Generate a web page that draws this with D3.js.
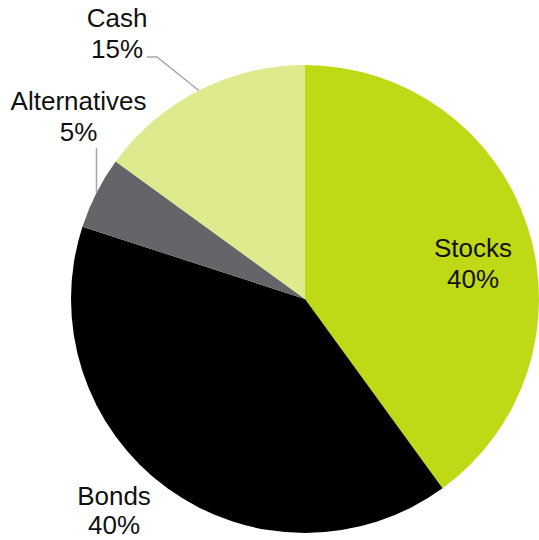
<!DOCTYPE html>
<html>
<head>
<meta charset="utf-8">
<script src="https://cdn.jsdelivr.net/npm/d3@7"></script>
<style>
  html, body { margin: 0; padding: 0; background: #ffffff; }
  svg { display: block; }
  text { font-family: "Liberation Sans", Arial, sans-serif; fill: #111111; }
</style>
</head>
<body>
<svg id="chart" width="539" height="540"></svg>
<script>
// Portfolio allocation
const categories = ["Stocks", "Bonds", "Alternatives", "Cash"];
const shares = [40, 40, 5, 15];
const colors = ["#c0d917", "#000000", "#636569", "#dfea8e"];

const width = 539, height = 540;
const cx = 305, cy = 299, radius = 234;
const fontSize = 26, lineGap = 31;

const svg = d3.select("#chart");
const g = svg.append("g").attr("transform", `translate(${cx},${cy})`);

const pie = d3.pie().sort(null).value(d => d.value);
const arc = d3.arc().innerRadius(0).outerRadius(radius);

const data = categories.map((c, i) => ({ name: c, value: shares[i], color: colors[i] }));
const arcs = pie(data);

g.selectAll("path.slice")
  .data(arcs)
  .enter().append("path")
  .attr("class", "slice")
  .attr("d", arc)
  .attr("fill", d => d.data.color);

// label placement (absolute page coordinates) and leader elbows
const labelPos = {
  "Stocks":       { x: 473, y: 257 },
  "Bonds":        { x: 114, y: 505 },
  "Alternatives": { x: 78.5, y: 110 },
  "Cash":         { x: 117, y: 27 }
};
const leaders = {
  "Alternatives": [[null, 148]],          // straight up from the slice edge
  "Cash":         [[157, 57], [147, 57]]
};

const pointOnEdge = d => {
  const a = (d.startAngle + d.endAngle) / 2;
  return [cx + radius * Math.sin(a), cy - radius * Math.cos(a)];
};

arcs.forEach(d => {
  const pts = leaders[d.data.name];
  if (!pts) return;
  const start = pointOnEdge(d);
  const line = [start].concat(pts.map(p => [p[0] === null ? start[0] : p[0], p[1]]));
  svg.append("path")
    .attr("d", d3.line()(line))
    .attr("fill", "none")
    .attr("stroke", "#a6a6a6")
    .attr("stroke-width", 1.5);
});

arcs.forEach(d => {
  const p = labelPos[d.data.name];
  const t = svg.append("text")
    .attr("text-anchor", "middle")
    .attr("font-size", fontSize);
  t.append("tspan").attr("x", p.x).attr("y", p.y).text(d.data.name);
  t.append("tspan").attr("x", p.x).attr("y", p.y + lineGap - (d.data.name === "Bonds" ? 2 : 0)).text(d.data.value + "%");
});
</script>
</body>
</html>
